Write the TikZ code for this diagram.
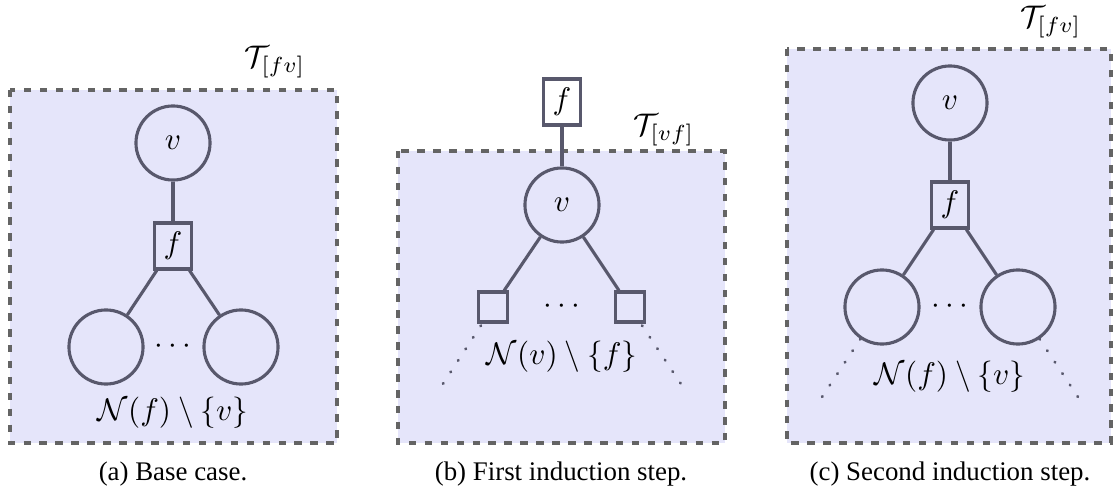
\documentclass[tikz,border=0pt]{standalone}
\usepackage{fontspec}
\newfontfamily\capfont{Liberation Serif}
\definecolor{bgfill}{RGB}{229,229,250}
\definecolor{ndline}{RGB}{88,88,108}
\definecolor{bdline}{RGB}{100,100,100}
\begin{document}
\begin{tikzpicture}[x=0.32pt,y=-0.32pt,
  frame/.style={draw=bdline, fill=bgfill, line width=1pt, dash pattern=on 2.4pt off 2.7pt},
  var/.style={circle, draw=ndline, line width=1pt, minimum size=23.7pt, inner sep=0pt},
  fac/.style={rectangle, draw=ndline, line width=1pt, minimum width=11.8pt, minimum height=14.7pt, inner sep=0pt},
  sfac/.style={rectangle, draw=ndline, line width=1pt, minimum width=9.3pt, minimum height=9.6pt, inner sep=0pt},
  edge/.style={draw=ndline, line width=1pt},
  dotline/.style={draw=ndline, line width=0.9pt, line cap=round, dash pattern=on 0.2pt off 4.2pt},
  captext/.style={inner sep=0pt, font=\capfont\fontsize{8.6}{10}\selectfont}
]
\useasboundingbox (0,0) rectangle (1113,496);

% ---------- (a) ----------
\draw[frame] (10,90) rectangle (337,443);
\node[var] (av) at (173,143) {$v$};
\node[fac] (af) at (173,246) {$f$};
\node[var] (al) at (106,347) {};
\node[var] (ar) at (241,347) {};
\node (adots) at (173,347) {$\cdots$};
\node (an) at (173,413) {$\mathcal{N}(f)\setminus\{v\}$};
\node (at) at (275,62) {$\mathcal{T}_{[fv]}$};
\draw[edge] (av) -- (af);
\draw[edge] (af) -- (al);
\draw[edge] (af) -- (ar);
\node[captext] (acap) at (173,474) {(a) Base case.};

% ---------- (b) ----------
\draw[frame] (398,151) rectangle (725,443);
\node[fac] (bf) at (562,102) {$f$};
\node[var] (bv) at (562,205) {$v$};
\node[sfac] (bl) at (493,307) {};
\node[sfac] (br) at (630,307) {};
\node (bdots) at (562,307) {$\cdots$};
\node (bn) at (562,357) {$\mathcal{N}(v)\setminus\{f\}$};
\node (bt) at (664,130) {$\mathcal{T}_{[vf]}$};
\draw[edge] (bf) -- (bv);
\draw[edge] (bv) -- (bl);
\draw[edge] (bv) -- (br);
\coordinate (blend) at (437,393);
\coordinate (brend) at (687,393);
\draw[dotline] (bl.south west) ++(4,2) -- (blend);
\draw[dotline] (br.south east) ++(-4,2) -- (brend);
\node[captext] (bcap) at (561,474) {(b) First induction step.};

% ---------- (c) ----------
\draw[frame] (787,49) rectangle (1111,443);
\node[var] (cv) at (950,103) {$v$};
\node[fac] (cf) at (950,205) {$f$};
\node[var] (cl) at (882,307) {};
\node[var] (cr) at (1018,307) {};
\node (cdots) at (950,307) {$\cdots$};
\node (cn) at (950,377) {$\mathcal{N}(f)\setminus\{v\}$};
\node (ct) at (1051,22) {$\mathcal{T}_{[fv]}$};
\draw[edge] (cv) -- (cf);
\draw[edge] (cf) -- (cl);
\draw[edge] (cf) -- (cr);
\coordinate (clend) at (822,397);
\coordinate (crend) at (1078,397);
\draw[dotline] (cl.236) -- (clend);
\draw[dotline] (cr.304) -- (crend);
\node[captext] (ccap) at (950,474) {(c) Second induction step.};
\end{tikzpicture}
\end{document}
